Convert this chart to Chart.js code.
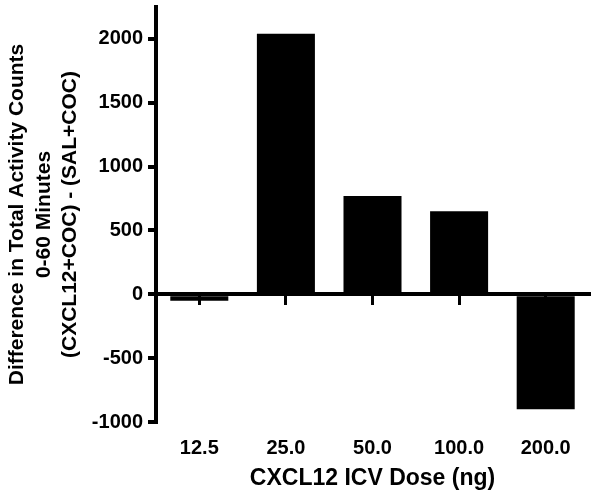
<!DOCTYPE html>
<html>
<head>
<meta charset="utf-8">
<script src="https://cdn.jsdelivr.net/npm/chart.js@4/dist/chart.umd.min.js"></script>
<style>
    html, body { margin: 0; padding: 0; background: #fff; }
    #wrap { width: 602px; height: 503px; }
</style>
</head>
<body>
<div id="wrap"><canvas id="chart"></canvas></div>
<script>
const doses = ['12.5', '25.0', '50.0', '100.0', '200.0']
const diffCounts = [-50, 2040, 770, 650, -900]
const yTicks = [-1000, -500, 0, 500, 1000, 1500, 2000]
const yTitle = ['Difference in Total Activity Counts', '0-60 Minutes', '(CXCL12+COC) - (SAL+COC)']
const xTitle = 'CXCL12 ICV Dose (ng)'

const family = 'Arial, "Liberation Sans", sans-serif'

const ctx = document.getElementById('chart').getContext('2d')

const chart = new Chart(ctx, {
    type: 'bar',
    data: {
        labels: doses,
        datasets: [{
            data: diffCounts,
            backgroundColor: '#000',
            borderWidth: 0,
            categoryPercentage: 1,
            barPercentage: 0.67,
            xAxisID: 'x',
            yAxisID: 'y'
        }]
    },
    options: {
        responsive: true,
        maintainAspectRatio: false,
        animation: false,
        layout: { padding: { top: 7, right: 13, left: 0, bottom: 0 } },
        plugins: {
            legend: { display: false },
            tooltip: { enabled: false }
        },
        scales: {
            x: {
                type: 'category',
                position: 'bottom',
                offset: true,
                border: { display: false },
                grid: { display: false },
                ticks: {
                    color: '#000',
                    padding: 6,
                    font: { family: family, size: 20, weight: 'bold' }
                },
                title: {
                    display: true,
                    text: xTitle,
                    color: '#000',
                    padding: { top: 0, bottom: 11 },
                    font: { family: family, size: 23, weight: 'bold' }
                },
                afterFit: (scale) => { scale.height = 81 }
            },
            x2: {
                type: 'category',
                labels: doses,
                position: { y: 0 },
                offset: true,
                border: { display: true, color: '#000', width: 4 },
                grid: {
                    offset: false,
                    drawOnChartArea: false,
                    color: '#000',
                    lineWidth: 3,
                    tickLength: 9
                },
                ticks: { display: false }
            },
            y: {
                min: -1000,
                max: 2250,
                border: { display: true, color: '#000', width: 4 },
                grid: {
                    drawOnChartArea: false,
                    color: '#000',
                    lineWidth: 4,
                    tickLength: 8
                },
                ticks: {
                    color: '#000',
                    padding: 5,
                    font: { family: family, size: 20, weight: 'bold' },
                    callback: (v) => String(v)
                },
                afterBuildTicks: (scale) => {
                    scale.ticks = yTicks.map(v => ({ value: v }))
                },
                title: {
                    display: true,
                    text: yTitle,
                    color: '#000',
                    padding: { top: 4, bottom: 0 },
                    font: { family: family, size: 21, weight: 'bold', lineHeight: 26.5 / 21 }
                },
                afterFit: (scale) => {
                    scale.width = 156
                    scale.paddingTop = 0
                    scale.paddingBottom = 0
                }
            }
        }
    }
})
</script>
</body>
</html>
